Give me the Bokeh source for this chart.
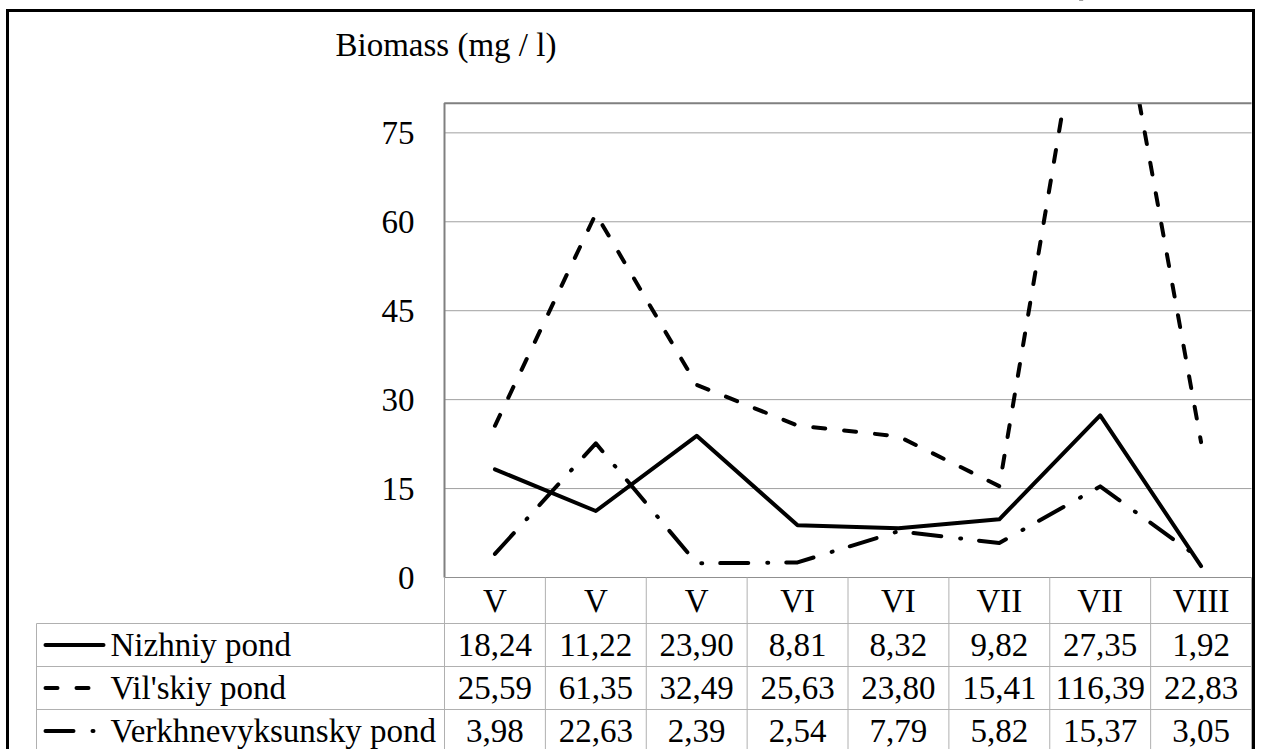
from bokeh.plotting import figure
from bokeh.models import Range1d, ColumnDataSource
from bokeh.core.properties import value
from bokeh.embed import file_html
from bokeh.resources import INLINE

# ---------------- data ----------------
months = ["V", "V", "V", "VI", "VI", "VII", "VII", "VIII"]
series_names = ["Nizhniy pond", "Vil'skiy pond", "Verkhnevyksunsky pond"]
nizhniy = [18.24, 11.22, 23.90, 8.81, 8.32, 9.82, 27.35, 1.92]
vilskiy = [25.59, 61.35, 32.49, 25.63, 23.80, 15.41, 116.39, 22.83]
verkh = [3.98, 22.63, 2.39, 2.54, 7.79, 5.82, 15.37, 3.05]
y_ticks = [0, 15, 30, 45, 60, 75]
y_max = 80
y_title = "Biomass (mg / l)"

series = [nizhniy, vilskiy, verkh]
dashes = ["solid", "12 19", "28 19 1 18"]

# ---------------- layout (pixels) ----------------
W, H = 1262, 749
PL, PR, PT, PB = 444, 1251, 102.7, 577
ROWS = [577, 623, 666, 709, 752]
TABLE_LEFT = 36
n = len(months)
KX = (PR - PL) / n
KY = (PB - PT) / y_max


def X(px):
    return (px - PL) / KX


def Y(py):
    return (PB - py) / KY


FONT = value("'Liberation Serif'")
FS = value("33px")

p = figure(width=W, height=H, output_backend="svg", toolbar_location=None,
           x_range=Range1d(X(0), X(W)), y_range=Range1d(Y(H), Y(0)),
           min_border=0, x_axis_type=None, y_axis_type=None)
p.outline_line_color = None
p.background_fill_color = "white"
p.border_fill_color = "white"

# gridlines
gt = [t for t in y_ticks if t > 0]
p.segment(x0=[0] * len(gt), x1=[n] * len(gt), y0=gt, y1=gt,
          line_color="#a0a0a0", line_width=1)

# series
xs = [i + 0.5 for i in range(n)]
for vals, d in zip(series, dashes):
    p.line(xs, vals, line_color="black", line_width=4, line_dash=d,
           line_cap="round", line_join="round")

# mask above plot area (clips lines at y_max)
p.quad(left=[X(0)], right=[X(W)], bottom=[y_max], top=[Y(0)],
       fill_color="white", line_color=None)

# plot area border
p.line([0, 0, n], [0, y_max, y_max], line_color="#808080", line_width=2)

# table lines
tc = "#b0b0b0"
p.segment(x0=[0], x1=[n], y0=[0], y1=[0], line_color="#909090", line_width=1)
hy = [Y(r) for r in ROWS[1:4]]
p.segment(x0=[X(TABLE_LEFT)] * 3, x1=[n] * 3, y0=hy, y1=hy, line_color=tc, line_width=1)
vx = list(range(1, n + 1))
p.segment(x0=vx, x1=vx, y0=[0] * n, y1=[Y(ROWS[4])] * n, line_color=tc, line_width=1)
p.segment(x0=[0], x1=[0], y0=[0], y1=[Y(ROWS[4])], line_color=tc, line_width=1)
p.segment(x0=[X(TABLE_LEFT)], x1=[X(TABLE_LEFT)], y0=[Y(ROWS[1])], y1=[Y(ROWS[4])],
          line_color=tc, line_width=1)

# title
p.text(x=[X(335)], y=[Y(44)], text=[y_title], text_font=FONT,
       text_font_size=FS, text_align="left", text_baseline="middle", text_color="black")

# y tick labels
p.text(x=[X(414)] * len(y_ticks), y=y_ticks, text=[str(t) for t in y_ticks],
       text_font=FONT, text_font_size=FS, text_align="right",
       text_baseline="middle", text_color="black")

# header row (months)
p.text(x=xs, y=[Y((ROWS[0] + ROWS[1]) / 2)] * n, text=months,
       text_font=FONT, text_font_size=FS, text_align="center",
       text_baseline="middle", text_color="black")

# value rows
cx, cy, ct = [], [], []
for r, vals in enumerate(series):
    yc = Y((ROWS[r + 1] + ROWS[r + 2]) / 2)
    for i, v in enumerate(vals):
        cx.append(i + 0.5)
        cy.append(yc)
        ct.append(f"{v:.2f}".replace(".", ","))
p.text(x="x", y="y", text="t", source=ColumnDataSource(dict(x=cx, y=cy, t=ct)),
       text_font=FONT, text_font_size=FS, text_align="center",
       text_baseline="middle", text_color="black")

# legend column
for r, (name, d) in enumerate(zip(series_names, dashes)):
    yc = Y((ROWS[r + 1] + ROWS[r + 2]) / 2)
    p.line([X(45), X(103)], [yc, yc], line_color="black", line_width=4,
           line_dash=d, line_cap="round")
    p.text(x=[X(110)], y=[yc], text=[name], text_font=FONT,
           text_font_size=FS, text_align="left", text_baseline="middle",
           text_color="black")

# outer border
p.line([X(7), X(7), X(1253), X(1253)], [Y(H + 20), Y(10), Y(10), Y(H + 20)],
       line_color="black", line_width=3, line_join="miter")

open("out.html", "w").write(file_html(p, INLINE))
